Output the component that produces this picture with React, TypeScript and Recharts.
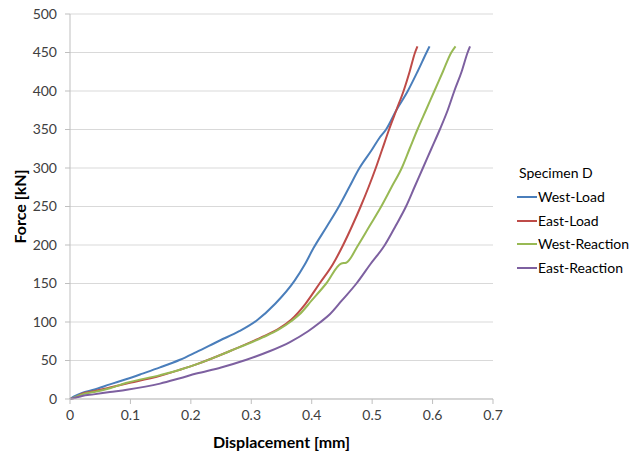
import React from "react"
import { LineChart, Line, XAxis, YAxis, CartesianGrid } from "recharts"

type Pt = { x: number; y: number }
const toPts = (rows: number[][]): Pt[] => rows.map(([x, y]) => ({ x, y }))

const westLoad = toPts([
  [0, 0], [0.006, 3], [0.02, 8], [0.039, 12], [0.066, 19], [0.094, 26], [0.12, 33],
  [0.149, 41], [0.182, 51], [0.209, 61], [0.248, 76], [0.28, 88], [0.309, 102],
  [0.34, 124], [0.372, 154], [0.388, 174], [0.403, 196], [0.425, 224], [0.445, 250],
  [0.462, 275], [0.479, 300], [0.499, 323], [0.512, 339], [0.523, 350], [0.54, 375],
  [0.559, 400], [0.575, 425], [0.59, 450], [0.595, 458],
])

const eastLoad = toPts([
  [0, 0], [0.01, 2], [0.02, 7], [0.04, 10], [0.066, 15], [0.094, 20], [0.149, 30],
  [0.182, 38], [0.209, 45], [0.264, 62], [0.319, 81], [0.345, 91], [0.366, 103], [0.39, 124],
  [0.413, 150], [0.435, 175], [0.452, 200], [0.467, 225], [0.481, 250],
  [0.494, 275], [0.506, 300], [0.517, 325], [0.528, 350], [0.54, 375], [0.552, 400],
  [0.562, 425], [0.571, 450], [0.575, 458],
])

const westReaction = toPts([
  [0, 0], [0.01, 3], [0.02, 6], [0.04, 9], [0.066, 14], [0.094, 21], [0.149, 31],
  [0.182, 38], [0.209, 45], [0.264, 62], [0.319, 80], [0.345, 90], [0.366, 101], [0.38, 110],
  [0.4, 128], [0.424, 150], [0.449, 176], [0.457, 177], [0.477, 200], [0.496, 225],
  [0.515, 250], [0.532, 275], [0.549, 300], [0.562, 325], [0.575, 350], [0.589, 375],
  [0.603, 400], [0.617, 425], [0.631, 450], [0.638, 458],
])

const eastReaction = toPts([
  [0, 0], [0.01, 2], [0.02, 4], [0.039, 6], [0.066, 9], [0.094, 12], [0.149, 20],
  [0.182, 27], [0.209, 33], [0.25, 41], [0.292, 51], [0.33, 62], [0.364, 74],
  [0.394, 88], [0.413, 99], [0.43, 110], [0.45, 128], [0.474, 150], [0.497, 175],
  [0.521, 200], [0.539, 225], [0.556, 250], [0.57, 275], [0.584, 300], [0.598, 325],
  [0.612, 350], [0.625, 375], [0.636, 400], [0.648, 425], [0.658, 450], [0.662, 458],
])

const xTicks = [0, 0.1, 0.2, 0.3, 0.4, 0.5, 0.6, 0.7]
const yTicks = [0, 50, 100, 150, 200, 250, 300, 350, 400, 450, 500]

const series = [
  { name: "West-Load", data: westLoad, color: "#4a7ebb" },
  { name: "East-Load", data: eastLoad, color: "#be4b48" },
  { name: "West-Reaction", data: westReaction, color: "#98b954" },
  { name: "East-Reaction", data: eastReaction, color: "#7d60a0" },
]

const font = "Lato, 'Open Sans', sans-serif"
const tickStyle = { fontSize: 14, fill: "#404040", fontFamily: font }

export default function App() {
  return (
    <div style={{ position: "absolute", left: 0, top: 0, width: 637, height: 458, background: "#fff", fontFamily: font }}>
      <LineChart width={637} height={458} margin={{ top: 14, right: 144, bottom: 0, left: 0 }}>
        <CartesianGrid vertical={false} stroke="#d9d9d9" />
        <XAxis
          type="number"
          dataKey="x"
          domain={[0, 0.7]}
          ticks={xTicks}
          height={59}
          tick={tickStyle}
          tickSize={5}
          tickMargin={6}
          stroke="#bfbfbf"
          label={{ value: "Displacement [mm]", position: "insideBottom", offset: 10, style: { fontSize: 16, fontWeight: 700, fill: "#000", fontFamily: font } }}
        />
        <YAxis
          type="number"
          domain={[0, 500]}
          ticks={yTicks}
          width={70}
          tick={tickStyle}
          tickSize={5}
          tickMargin={8}
          stroke="#bfbfbf"
          label={{ value: "Force [kN]", angle: -90, position: "center", dx: -15, style: { fontSize: 16, fontWeight: 700, fill: "#000", fontFamily: font } }}
        />
        {series.map((s) => (
          <Line
            key={s.name}
            data={s.data}
            dataKey="y"
            name={s.name}
            type="monotone"
            stroke={s.color}
            strokeWidth={2}
            dot={false}
            isAnimationActive={false}
          />
        ))}
      </LineChart>
      <div style={{ position: "absolute", left: 519, top: 163, fontSize: 14, color: "#000", lineHeight: "20px" }}>
        Specimen D
      </div>
      {series.map((s, i) => (
        <div
          key={s.name}
          style={{ position: "absolute", left: 517, top: 187 + i * 23.7, display: "flex", alignItems: "center", fontSize: 14, lineHeight: "20px", color: "#000" }}
        >
          <span style={{ display: "inline-block", width: 20, height: 2, background: s.color, marginRight: 1 }} />
          <span>{s.name}</span>
        </div>
      ))}
    </div>
  )
}
